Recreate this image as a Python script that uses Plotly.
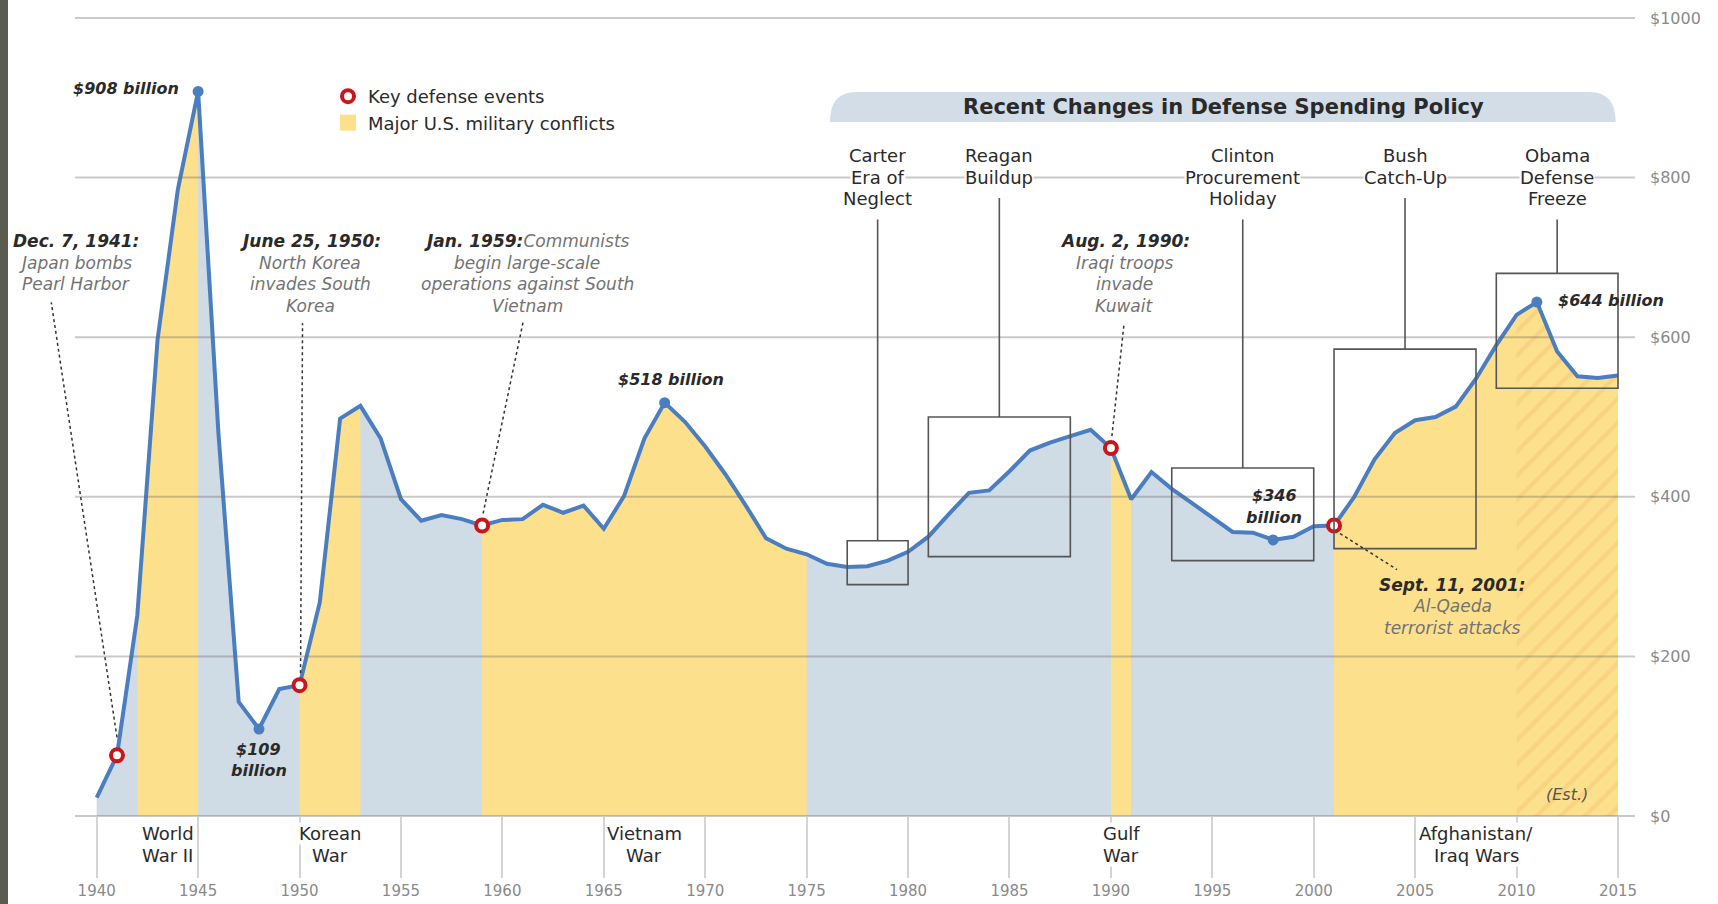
import plotly.graph_objects as go

# ---------------- data ----------------
years = list(range(1940, 2016))
spending = [23, 76, 251, 597, 785, 908, 480, 143, 109, 159,
            164, 268, 498, 514, 473, 397, 370, 377, 372, 364,
            371, 372, 390, 380, 389, 360, 401, 473, 518, 494,
            463, 428, 389, 348, 335, 328, 316, 312, 313, 320,
            331, 350, 378, 405, 408, 432, 458, 468, 476, 484,
            461, 397, 431, 410, 392, 374, 356, 355, 346, 350,
            363, 364, 400, 447, 480, 496, 500, 513, 548, 590,
            628, 644, 582, 551, 549, 552]

conflict_start = [1942, 1950, 1959, 1990, 2001]
conflict_end = [1945, 1953, 1975, 1991, 2015]
conflict_label_1 = ["World", "Korean", "Vietnam", "Gulf", "Afghanistan/"]
conflict_label_2 = ["War II", "War", "War", "War", "Iraq Wars"]
estimate_start = 2010

event_years = [1941, 1950, 1959, 1990, 2001]
event_dates = ["Dec. 7, 1941:", "June 25, 1950:", "Jan. 1959:", "Aug. 2, 1990:", "Sept. 11, 2001:"]
event_first_extra = ["", "", "Communists", "", ""]
event_lines = [["Japan bombs", "Pearl Harbor"],
               ["North Korea", "invades South", "Korea"],
               ["begin large-scale", "operations against South", "Vietnam"],
               ["Iraqi troops", "invade", "Kuwait"],
               ["Al-Qaeda", "terrorist attacks"]]

callout_years = [1945, 1948, 1968, 1998, 2011]
callout_lines = [["$908 billion"], ["$109", "billion"], ["$518 billion"],
                 ["$346", "billion"], ["$644 billion"]]

policy_names = [["Carter", "Era of", "Neglect"], ["Reagan", "Buildup"],
                ["Clinton", "Procurement", "Holiday"], ["Bush", "Catch-Up"],
                ["Obama", "Defense", "Freeze"]]
policy_start = [1977, 1981, 1993, 2001, 2009]
policy_end = [1980, 1988, 2000, 2008, 2015]
policy_low = [290, 325, 320, 335, 536]
policy_high = [345, 500, 436, 585, 680]

y_ticks = [0, 200, 400, 600, 800, 1000]
y_tick_text = ["$0", "$200", "$400", "$600", "$800", "$1000"]
x_ticks = list(range(1940, 2016, 5))

banner_title = "Recent Changes in Defense Spending Policy"
legend_events = "Key defense events"
legend_conflicts = "Major U.S. military conflicts"

# ---------------- geometry / styles ----------------
W, H = 1718, 904
ML, MR, MT, MB = 75, 83, 18, 88
PW = W - ML - MR
PH = H - MT - MB
X0, X1 = 1938.93, 2015.838
Y0, Y1 = 0, 1000

FONT = "DejaVu Sans"
DARK = "#2a2a2a"
GRAYTXT = "#737373"
LINE_BLUE = "#4a7ec0"
FILL_BLUE = "#cfdbe5"
FILL_YEL = "#fde08c"
HATCH = "#f8d381"
RED = "#c8161d"
BOX = "#555555"


def x2px(x):
    return ML + (x - X0) / (X1 - X0) * PW


def y2py(y):
    return MT + (Y1 - y) / (Y1 - Y0) * PH


def px2pap(px):
    return (px - ML) / PW


def py2pap(py):
    return (MT + PH - py) / PH


val = dict(zip(years, spending))

fig = go.Figure()

# base (non-conflict) area
fig.add_trace(go.Scatter(x=years, y=spending, mode="lines", fill="tozeroy",
                         fillcolor=FILL_BLUE, line=dict(width=0),
                         hoverinfo="skip", showlegend=False))
# conflict areas
for s, e in zip(conflict_start, conflict_end):
    xs = [yr for yr in years if s <= yr <= e]
    fig.add_trace(go.Scatter(x=xs, y=[val[yr] for yr in xs], mode="lines",
                             fill="tozeroy", fillcolor=FILL_YEL,
                             line=dict(width=0), hoverinfo="skip",
                             showlegend=False))
# estimated (hatched) part
xs = [yr for yr in years if yr >= estimate_start]
fig.add_trace(go.Scatter(x=xs, y=[val[yr] for yr in xs], mode="lines",
                         fill="tozeroy", fillcolor=FILL_YEL,
                         fillpattern=dict(shape="/", fgcolor=HATCH,
                                          bgcolor=FILL_YEL, size=17,
                                          solidity=0.25),
                         line=dict(width=0), hoverinfo="skip",
                         showlegend=False))
# spending line
fig.add_trace(go.Scatter(x=years, y=spending, mode="lines",
                         line=dict(color=LINE_BLUE, width=4),
                         hoverinfo="skip", showlegend=False))
# callout dots
fig.add_trace(go.Scatter(x=callout_years, y=[val[y] for y in callout_years],
                         mode="markers",
                         marker=dict(color=LINE_BLUE, size=11),
                         hoverinfo="skip", showlegend=False))
# key events
fig.add_trace(go.Scatter(x=event_years, y=[val[y] for y in event_years],
                         mode="markers", name=legend_events, legendrank=1,
                         marker=dict(symbol="circle", size=12, color="white",
                                     line=dict(color=RED, width=4)),
                         hoverinfo="skip"))
# legend entry for conflicts
fig.add_trace(go.Scatter(x=[None], y=[None], mode="markers",
                         name=legend_conflicts, legendrank=2,
                         marker=dict(symbol="square", size=18, color=FILL_YEL),
                         hoverinfo="skip"))

shapes = []
annots = []


def text(t, x, y, xref="paper", yref="paper", size=18, color=DARK,
         xanchor="center", yanchor="middle", bg="rgba(0,0,0,0)",
         xshift=0, yshift=0):
    annots.append(dict(text=t, x=x, y=y, xref=xref, yref=yref,
                       showarrow=False, xanchor=xanchor, yanchor=yanchor,
                       font=dict(family=FONT, size=size, color=color),
                       bgcolor=bg, borderpad=0, xshift=xshift, yshift=yshift))


# left dark strip
shapes.append(dict(type="rect", xref="paper", yref="paper",
                   x0=px2pap(0), x1=px2pap(8), y0=py2pap(H), y1=py2pap(0),
                   fillcolor="#5a5c4f", line=dict(width=0), layer="above"))

# gridlines (above the areas)
for v in y_ticks:
    p = py2pap(y2py(v))
    shapes.append(dict(type="line", xref="paper", yref="paper", x0=0, x1=1,
                       y0=p, y1=p, line=dict(color="rgba(100,100,100,0.35)",
                                             width=2), layer="above"))

# banner
bx0, bx1, by0, by1, rad = 830, 1615.6, 92, 122, 26
path = (f"M {px2pap(bx0)},{py2pap(by1)} "
        f"Q {px2pap(bx0)},{py2pap(by0)} {px2pap(bx0 + rad)},{py2pap(by0)} "
        f"L {px2pap(bx1 - rad)},{py2pap(by0)} "
        f"Q {px2pap(bx1)},{py2pap(by0)} {px2pap(bx1)},{py2pap(by1)} Z")
shapes.append(dict(type="path", xref="paper", yref="paper", path=path,
                   fillcolor="#d2dde7", line=dict(width=0), layer="above"))
text(f"<b>{banner_title}</b>", px2pap(1223), py2pap(107), size=21)

# policy boxes, leaders and labels
label_rows = [155.5, 177, 198.5]
for names, s, e, lo, hi in zip(policy_names, policy_start, policy_end,
                               policy_low, policy_high):
    shapes.append(dict(type="rect", xref="paper", yref="paper",
                       x0=px2pap(x2px(s)), x1=px2pap(x2px(e)),
                       y0=py2pap(y2py(lo)), y1=py2pap(y2py(hi)),
                       line=dict(color=BOX, width=1.6),
                       fillcolor="rgba(0,0,0,0)", layer="above"))
    cx = (s + e) / 2
    bottom = label_rows[len(names) - 1] + 21
    shapes.append(dict(type="line", xref="paper", yref="paper",
                       x0=px2pap(x2px(cx)), x1=px2pap(x2px(cx)),
                       y0=py2pap(bottom), y1=py2pap(y2py(hi)),
                       line=dict(color=BOX, width=1.6), layer="above"))
    for k, nm in enumerate(names):
        text(nm, cx, py2pap(label_rows[k]), xref="x", size=18, color=DARK,
             bg="white")

# events: leaders and labels
event_text_dx = [-41, 10.5, 45, 14, 118]
event_rows_top = [241, 262.5, 284, 305.5]
event_rows_low = [584.5, 606, 627.5]
leader_start = [(0, -18), (1, -12), (1, -12), (1, -12), (6, 8)]
leader_end = [(-65.7, -453), (3, -362), (41, -203.5), (13, -123), (63, 44)]
for i, yr in enumerate(event_years):
    px, py = x2px(yr), y2py(val[yr])
    (sx, sy), (ex, ey) = leader_start[i], leader_end[i]
    shapes.append(dict(type="line", xref="paper", yref="paper",
                       x0=px2pap(px + sx), y0=py2pap(py + sy),
                       x1=px2pap(px + ex), y1=py2pap(py + ey),
                       line=dict(color="#333333", width=1.5, dash="dot"),
                       layer="above"))
    rows = event_rows_low if i == 4 else event_rows_top
    lx = px2pap(px + event_text_dx[i])
    first = f"<b><i>{event_dates[i]}</i></b>"
    if event_first_extra[i]:
        first += f"<span style='color:{GRAYTXT}'><i>{event_first_extra[i]}</i></span>"
    text(first, lx, py2pap(rows[0]), size=17, color=DARK)
    for k, ln in enumerate(event_lines[i]):
        text(f"<i>{ln}</i>", lx, py2pap(rows[k + 1]), size=17, color=GRAYTXT)

# callouts
callout_dx = [[-18], [0, 0], [6], [1, 1], [20]]
callout_dy = [[3], [-20.5, -41.5], [23], [44, 22], [2]]
callout_anchor = ["right", "center", "center", "center", "left"]
for yr, lines, dxs, dys, anc in zip(callout_years, callout_lines, callout_dx,
                                     callout_dy, callout_anchor):
    for ln, dx, dy in zip(lines, dxs, dys):
        text(f"<b><i>{ln}</i></b>", yr, val[yr], xref="x", yref="y",
             size=16, color=DARK, xanchor=anc, xshift=dx, yshift=dy)

# conflict labels below axis
for s, e, l1, l2 in zip(conflict_start, conflict_end, conflict_label_1,
                        conflict_label_2):
    cx = (s + e) / 2
    text(l1, cx, py2pap(833), xref="x", size=18, bg="white")
    text(l2, cx, py2pap(855), xref="x", size=18, bg="white")

# estimate note
text("<i>(Est.)</i>", px2pap(1567), py2pap(794), size=16, color="#555555")

fig.update_layout(
    template="none",
    width=W, height=H,
    margin=dict(l=ML, r=MR, t=MT, b=MB, pad=0, autoexpand=False),
    paper_bgcolor="white", plot_bgcolor="white",
    hovermode=False,
    shapes=shapes, annotations=annots,
    font=dict(family=FONT, color=DARK),
    legend=dict(x=px2pap(328), y=py2pap(78), xanchor="left", yanchor="top",
                bgcolor="rgba(0,0,0,0)", tracegroupgap=0, borderwidth=0,
                font=dict(family=FONT, size=18, color=DARK)),
    xaxis=dict(range=[X0, X1], tickvals=x_ticks,
               ticktext=[str(t) for t in x_ticks], automargin=False,
               ticks="outside", ticklen=61, tickwidth=2, tickcolor="#d4d4d4",
               ticklabelstandoff=0,
               tickfont=dict(family=FONT, size=15, color="#8a8a8a"),
               showgrid=False, zeroline=False, showline=False,
               fixedrange=True),
    yaxis=dict(range=[Y0, Y1], tickvals=y_ticks, ticktext=y_tick_text,
               side="right", ticks="", ticklabelstandoff=14, automargin=False,
               tickfont=dict(family=FONT, size=16, color="#8a8a8a"),
               showgrid=False, zeroline=False, showline=False,
               fixedrange=True),
)

fig.write_html(
    "out.html",
    config={"displayModeBar": False},
    post_script="document.body.style.margin='0';document.body.style.overflow='hidden';",
)
